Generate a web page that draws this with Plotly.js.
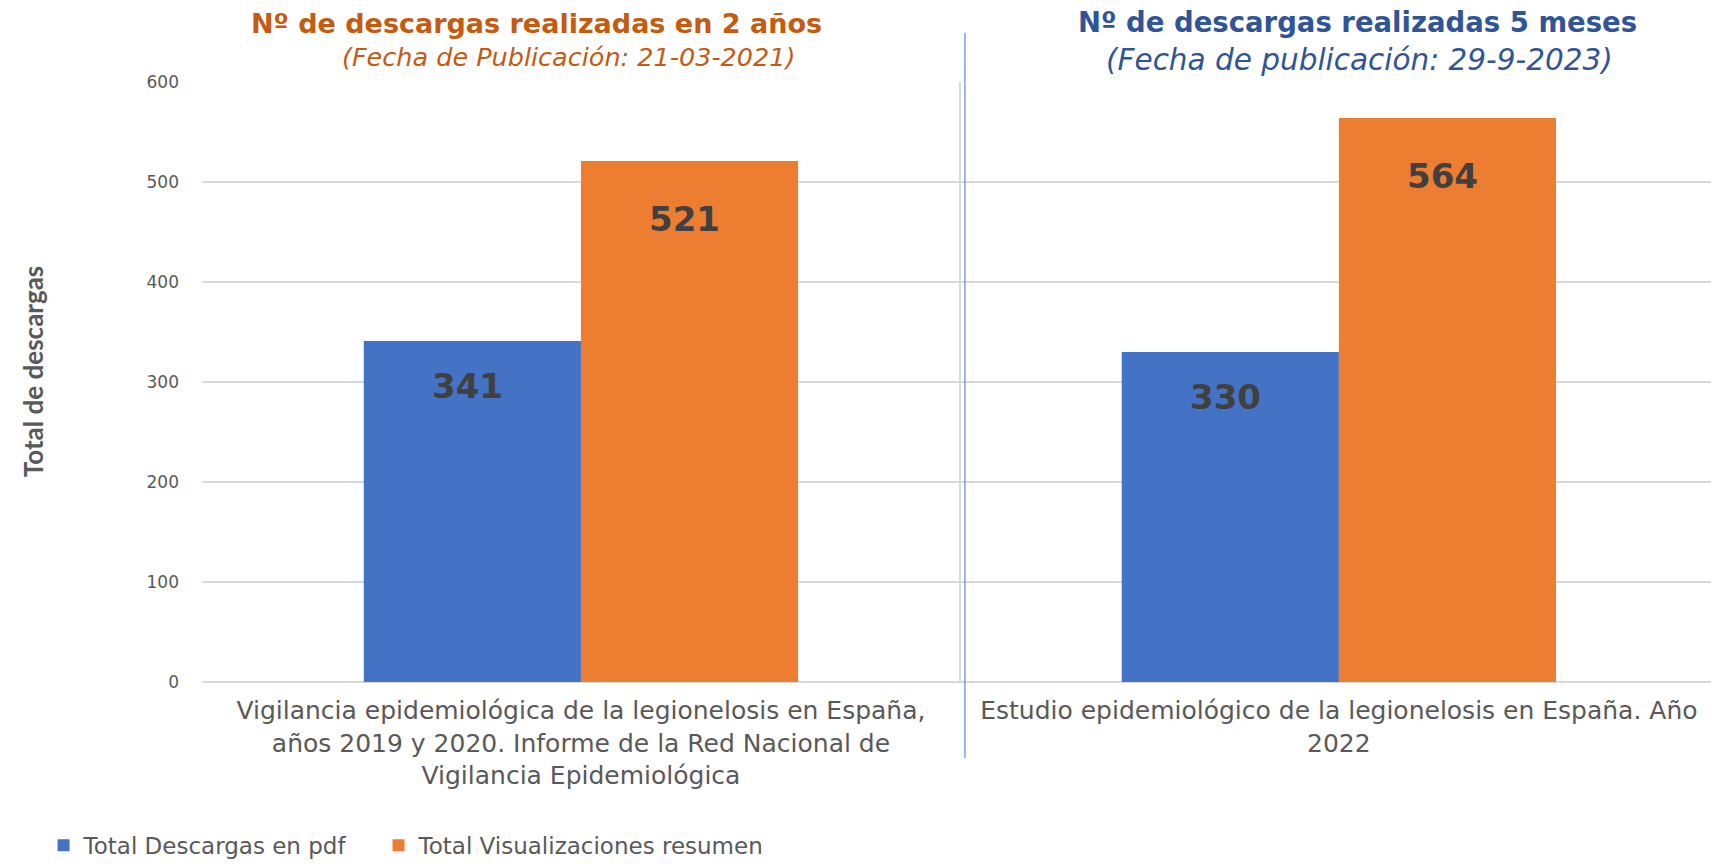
<!DOCTYPE html>
<html>
<head>
<meta charset="utf-8">
<script src="https://cdn.plot.ly/plotly-3.0.1.min.js"></script>
<style>html,body{margin:0;padding:0;background:#fff;}#chart{width:1711px;height:868px;}</style>
</head>
<body>
<div id="chart"></div>
<script>
const categories = [
  "Vigilancia epidemiológica de la legionelosis en España,<br>años 2019 y 2020. Informe de la Red Nacional de<br>Vigilancia Epidemiológica",
  "Estudio epidemiológico de la legionelosis en España. Año<br>2022"
];
const seriesNames = ["Total Descargas en pdf", "Total Visualizaciones resumen"];
const pdfDownloads = [341, 330];
const summaryViews = [521, 564];
const yTicks = [0, 100, 200, 300, 400, 500, 600];

const BLUE = "#4472c4", ORANGE = "#ed7d31";
const bargap = 0.427;
const half = (1 - bargap) / 4;
const labelShift = [-45, -58];

const traces = [
  {type: "bar", name: seriesNames[0], x: categories, y: pdfDownloads, marker: {color: BLUE}, hoverinfo: "skip", legend: "legend"},
  {type: "bar", name: seriesNames[1], x: categories, y: summaryViews, marker: {color: ORANGE}, hoverinfo: "skip", legend: "legend2"}
];

const annotations = [];
[pdfDownloads, summaryViews].forEach((vals, s) => {
  vals.forEach((v, i) => {
    annotations.push({
      xref: "x", yref: "y", x: i + (s === 0 ? -half : half), y: v,
      text: String(v), showarrow: false, yanchor: "middle", yshift: labelShift[s], xshift: -5,
      font: {family: "DejaVu Sans", size: 34, color: "#404040", weight: "bold"}
    });
  });
});

annotations.push(
  {xref: "paper", yref: "paper", x: 0.222, y: 1.097, text: "<b>Nº de descargas realizadas en 2 años</b>", showarrow: false,
   font: {family: "DejaVu Sans", size: 27, color: "#c55a11"}, xanchor: "center", yanchor: "middle"},
  {xref: "paper", yref: "paper", x: 0.243, y: 1.042, text: "<i>(Fecha de Publicación: 21-03-2021)</i>", showarrow: false,
   font: {family: "DejaVu Sans", size: 25.5, color: "#c55a11"}, xanchor: "center", yanchor: "middle"},
  {xref: "paper", yref: "paper", x: 0.766, y: 1.1, text: "<b>Nº de descargas realizadas 5 meses</b>", showarrow: false,
   font: {family: "DejaVu Sans", size: 27.5, color: "#2f5597"}, xanchor: "center", yanchor: "middle"},
  {xref: "paper", yref: "paper", x: 0.767, y: 1.037, text: "<i>(Fecha de publicación: 29-9-2023)</i>", showarrow: false,
   font: {family: "DejaVu Sans", size: 29.5, color: "#2f5597"}, xanchor: "center", yanchor: "middle"},
  {xref: "paper", yref: "paper", x: -0.112, y: 0.518, text: "<b>Total de descargas</b>", showarrow: false, textangle: -90,
   font: {family: "Lato", size: 26, color: "#595959"}, xanchor: "center", yanchor: "middle"}
);

const legendFont = {family: "DejaVu Sans", size: 23, color: "#595959"};

const layout = {
  width: 1711, height: 868,
  margin: {l: 202, r: 0, t: 82, b: 186},
  paper_bgcolor: "#fff", plot_bgcolor: "#fff",
  barmode: "group", bargap: bargap, bargroupgap: 0,
  showlegend: true,
  legend: {orientation: "h", x: -0.105, y: -0.272, xanchor: "left", yanchor: "middle", font: legendFont},
  legend2: {orientation: "h", x: 0.117, y: -0.272, xanchor: "left", yanchor: "middle", font: legendFont},
  xaxis: {type: "category", range: [-0.5, 1.491], tickson: "boundaries", showgrid: true,
          gridcolor: "#d9d9d9", gridwidth: 2, ticks: "", showline: false, zeroline: false,
          tickfont: {family: "DejaVu Sans", size: 25, color: "#595959"}, ticklabelstandoff: 11, automargin: false},
  yaxis: {range: [0, 600], tickvals: yTicks, ticktext: yTicks.map(String), showgrid: true, gridcolor: "#d9d9d9",
          gridwidth: 1.5, zeroline: true, zerolinecolor: "#d9d9d9", zerolinewidth: 2, showline: false, ticks: "",
          tickfont: {family: "DejaVu Sans", size: 17, color: "#595959"}, ticklabelstandoff: 22, automargin: false},
  annotations: annotations,
  shapes: [
    {type: "line", xref: "paper", yref: "paper", x0: 0.5056, x1: 0.5056, y0: -0.127, y1: 1.082,
     line: {color: "#4472c4", width: 1}}
  ]
};

Plotly.newPlot("chart", traces, layout, {staticPlot: true, displayModeBar: false});
</script>
</body>
</html>
